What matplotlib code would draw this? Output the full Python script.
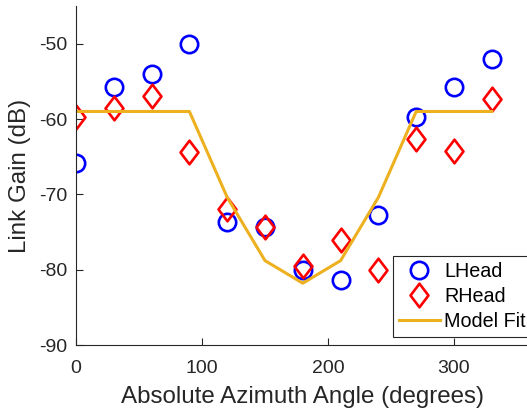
import numpy as np
import matplotlib.pyplot as plt
from matplotlib.path import Path

plt.rcParams['font.family'] = ['Liberation Sans', 'DejaVu Sans']
plt.rcParams['axes.unicode_minus'] = False

angles = [0, 30, 60, 90, 120, 150, 180, 210, 240, 270, 300, 330]
lhead = [-65.9, -55.8, -54.0, -50.0, -73.7, -74.4, -80.1, -81.4, -72.8, -59.8, -55.8, -52.1]
rhead = [-59.7, -58.5, -56.9, -64.4, -71.9, -74.4, -79.5, -76.1, -80.1, -62.6, -64.2, -57.4]
model_fit = [-59.0, -59.0, -59.0, -59.0, -70.4, -78.8, -81.8, -78.8, -70.4, -59.0, -59.0, -59.0]

xticks = [0, 100, 200, 300]
yticks = [-90, -80, -70, -60, -50]

dark = (0.15, 0.15, 0.15)
orange = (0.929, 0.694, 0.125)

# matlab style diamond, a bit wider than mpl's thin diamond
diamond = Path([(0, -1), (0.76, 0), (0, 1), (-0.76, 0), (0, -1)],
               [Path.MOVETO, Path.LINETO, Path.LINETO, Path.LINETO, Path.CLOSEPOLY])

fig = plt.figure(figsize=(5.27, 4.18), dpi=100)
ax = fig.add_axes([76 / 527, 73 / 418, 453.6 / 527, 339 / 418])

ax.plot(angles, lhead, linestyle='none', marker='o', markersize=12.5,
        markerfacecolor='none', markeredgecolor='b', markeredgewidth=1.9, label='LHead')
ax.plot(angles, rhead, linestyle='none', marker=diamond, markersize=17,
        markerfacecolor='none', markeredgecolor='r', markeredgewidth=1.9, label='RHead')
ax.plot(angles, model_fit, color=orange, linewidth=2.2, label='Model Fit')

ax.set_xlim(0, 360)
ax.set_ylim(-90, -45)
ax.set_xticks(xticks)
ax.set_yticks(yticks)
ax.tick_params(direction='in', length=5, width=0.8, colors=dark, labelsize=14)
ax.tick_params(axis='x', pad=11)
ax.tick_params(axis='y', pad=6)
for side in ['top', 'right']:
    ax.spines[side].set_visible(False)
for side in ['left', 'bottom']:
    ax.spines[side].set_color(dark)
    ax.spines[side].set_linewidth(0.8)

ax.set_xlabel('Absolute Azimuth Angle (degrees)', fontsize=17.4, color=dark, labelpad=6)
ax.set_ylabel('Link Gain (dB)', fontsize=17.4, color=dark, labelpad=6)

leg = ax.legend(loc='lower left', bbox_to_anchor=(392.7 / 527, 81.3 / 418),
                bbox_transform=fig.transFigure, borderaxespad=0, fontsize=14.2,
                handlelength=2.1, handletextpad=0.2, labelspacing=0.3,
                borderpad=0.3, fancybox=False, framealpha=1)
leg.get_frame().set_edgecolor(dark)
leg.get_frame().set_linewidth(0.8)

fig.savefig('out.png', dpi=100)
